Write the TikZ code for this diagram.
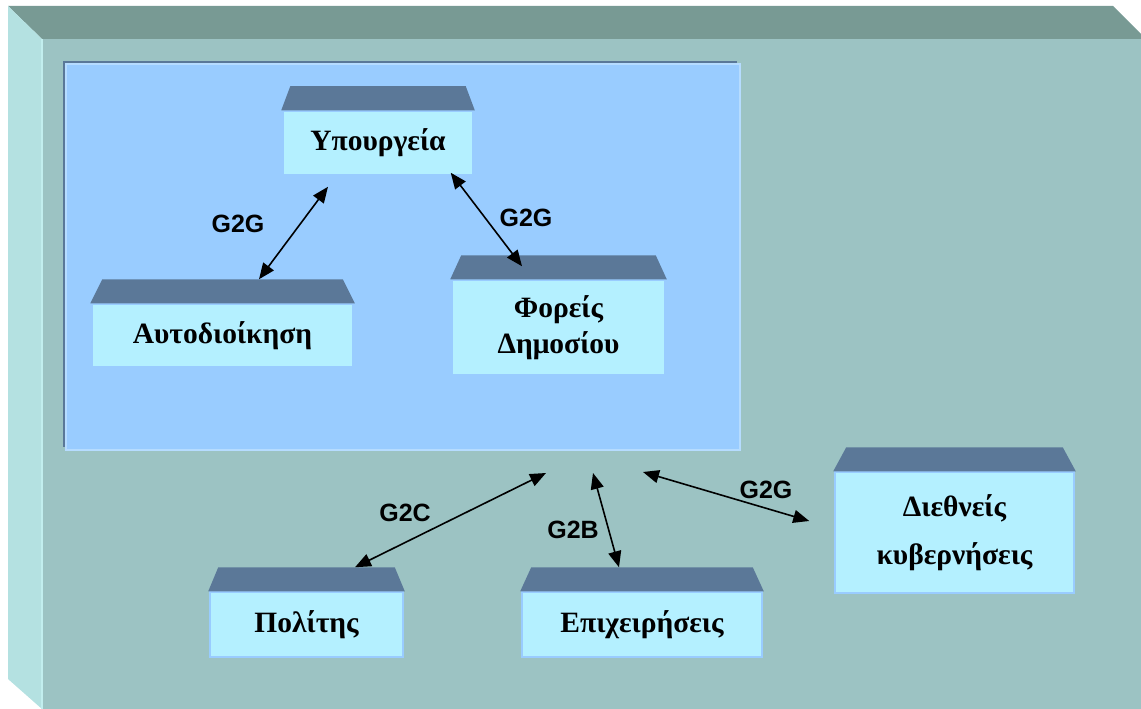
\documentclass[tikz,border=0pt]{standalone}
\usepackage{fontspec}
\setmainfont{Liberation Serif}
\newfontfamily\lblfont{Liberation Sans}
\usetikzlibrary{arrows.meta,calc}

\definecolor{slabtop}{HTML}{789A94}
\definecolor{slabside}{HTML}{B4E1E1}
\definecolor{slabfront}{HTML}{9CC3C3}
\definecolor{slabline}{HTML}{C2EEEE}
\definecolor{govfill}{HTML}{99CCFF}
\definecolor{govshade}{HTML}{5A7898}
\definecolor{govline}{HTML}{B6DCFF}
\definecolor{lidfill}{HTML}{5B7898}
\definecolor{bodyfill}{HTML}{B4F0FF}
\definecolor{bodyedge}{HTML}{99CCFF}

\tikzset{
  unit/.style={fill=bodyfill, draw=bodyedge, line width=1.5pt, inner sep=0pt,
    align=center, font=\fontsize{29.5}{36}\selectfont\bfseries},
  lbl/.style={font=\lblfont\fontsize{25}{30}\selectfont\bfseries},
  link/.style={{Triangle[length=16pt,width=13pt]}-{Triangle[length=16pt,width=13pt]},
    line width=1.6pt}
}

\begin{document}
\begin{tikzpicture}[x=1pt,y=-1pt]
   \useasboundingbox (0,0) rectangle (1141,709);
   % slab
   \fill[slabfront] (42,39) rectangle (1141,709);
   \fill[slabtop] (8,6) -- (1113,6) -- (1141,34) -- (1141,39) -- (42,39) -- cycle;
   \fill[slabside] (8,6) -- (42,39) -- (42,709) -- (8,679) -- cycle;
   \draw[slabline, line width=1.5pt] (42,39) -- (42,709);
   % government area
   \fill[govshade] (63,61) rectangle (737,447);
   \filldraw[fill=govfill, draw=govline, line width=1.5pt] (66,64) rectangle (740,450);

   \node[unit, minimum width=190pt, minimum height=64pt] (upr) at (378,143) {Υπουργεία};
   \node[unit, minimum width=261pt, minimum height=63pt] (aut) at (222.5,335.5) {Αυτοδιοίκηση};
   \node[unit, minimum width=213pt, minimum height=95pt] (fdm) at (558.5,327.5) {Φορείς\\Δημοσίου};
   \node[unit, minimum width=239pt, minimum height=121pt,
         font=\fontsize{29.5}{48}\selectfont\bfseries] (die) at (954.5,532.5) {Διεθνείς\\κυβερνήσεις};
   \node[unit, minimum width=193pt, minimum height=65pt] (pol) at (306.5,624.5) {Πολίτης};
   \node[unit, minimum width=240pt, minimum height=65pt] (epi) at (642,624.5) {Επιχειρήσεις};

   % lids
   \foreach \u/\d in {upr/8, aut/11, fdm/10, die/12, pol/9, epi/10}
     \fill[lidfill] ([xshift=-1pt]\u.north west) -- ([xshift=\d pt, yshift=24pt]\u.north west)
       -- ([xshift=-\d pt, yshift=24pt]\u.north east) -- ([xshift=1pt]\u.north east) -- cycle;

   % free ends below the government area
   \coordinate (toC) at (546,473);
   \coordinate (toB) at (593,473);
   \coordinate (toG) at (643,472);

   \draw[link] ($(upr.south)+(-50,11)$) -- ($(aut.north)+(36.5,-24)$);
   \draw[link] ($(upr.south east)+(-23,-3)$) -- ($(fdm.north)+(-36.5,-13)$);
   \draw[link] (toC) -- ($(pol.north)+(48.5,-24)$);
   \draw[link] (toB) -- ($(epi.north)+(-23,-24)$);
   \draw[link] (toG) -- ($(die.west)+(-25,-11.5)$);

   \node[lbl] (l1) at (238,224) {G2G};
   \node[lbl] (l2) at (526,218) {G2G};
   \node[lbl] (l3) at (405,513) {G2C};
   \node[lbl] (l4) at (573,530) {G2B};
   \node[lbl] (l5) at (766,490) {G2G};
\end{tikzpicture}
\end{document}
